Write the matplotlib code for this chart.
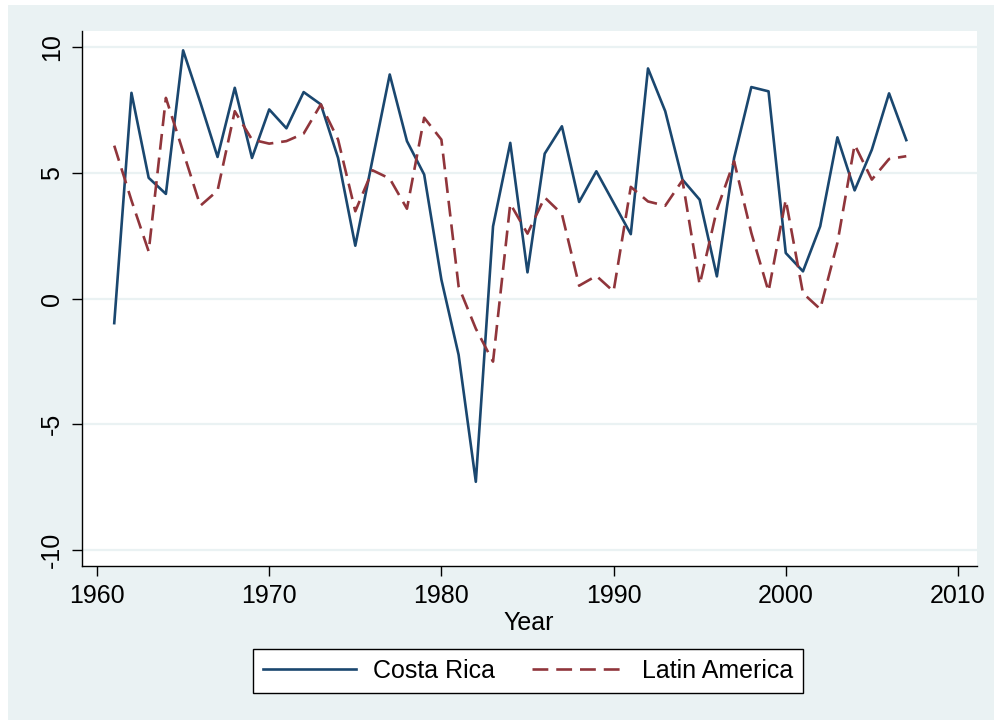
import matplotlib
matplotlib.use("Agg")
import matplotlib.pyplot as plt
from matplotlib.patches import Rectangle

years = list(range(1961, 2008))
costa_rica = [-0.98, 8.18, 4.80, 4.16, 9.87, 7.80, 5.63, 8.38, 5.59, 7.52,
              6.77, 8.21, 7.72, 5.59, 2.10, 5.53, 8.91, 6.26, 4.93, 0.75,
              -2.24, -7.29, 2.87, 6.19, 1.04, 5.76, 6.85, 3.84, 5.06, 3.81,
              2.56, 9.15, 7.45, 4.73, 3.93, 0.88, 5.59, 8.41, 8.24, 1.81,
              1.08, 2.87, 6.41, 4.30, 5.92, 8.16, 6.30]
latin_america = [6.08, 3.90, 1.87, 7.98, 5.84, 3.69, 4.29, 7.45, 6.32, 6.16,
                 6.26, 6.56, 7.72, 6.32, 3.47, 5.10, 4.77, 3.57, 7.19, 6.32,
                 0.48, -1.20, -2.51, 3.77, 2.58, 4.02, 3.36, 0.51, 0.90, 0.28,
                 4.44, 3.86, 3.69, 4.70, 0.55, 3.53, 5.46, 2.61, 0.28, 3.93,
                 0.21, -0.42, 2.21, 6.12, 4.73, 5.55, 5.66]
x_ticks = [1960, 1970, 1980, 1990, 2000, 2010]
y_ticks = [-10, -5, 0, 5, 10]

NAVY = "#1a476f"
MAROON = "#90353b"
BG = "#eaf2f3"
FS = 18

plt.rcParams['font.family'] = ['Liberation Sans', 'DejaVu Sans']

W, H = 995, 726
fig = plt.figure(figsize=(W / 100, H / 100), dpi=100)
fig.patch.set_facecolor("white")
fig.patches.append(Rectangle((8 / W, 1 - 720 / H), (W - 8) / W, (720 - 5) / H,
                             transform=fig.transFigure, facecolor=BG,
                             edgecolor="none", zorder=-10))

left, right, top, bottom = 81.7, 976.7, 31, 566
ax = fig.add_axes([left / W, 1 - bottom / H, (right - left) / W, (bottom - top) / H])
ax.set_facecolor("white")

for yv in y_ticks:
    ax.axhline(yv, color=BG, lw=1.6, zorder=1)

ax.plot(years, costa_rica, color=NAVY, lw=1.9, label="Costa Rica", zorder=3)
ax.plot(years, latin_america, color=MAROON, lw=1.9, linestyle=(0, (6, 3)),
        label="Latin America", zorder=3)

ax.set_xlim(1959.11, 2011.09)
ax.set_ylim(-10.64, 10.64)
ax.set_xticks(x_ticks)
ax.set_yticks(y_ticks)
ax.set_xticklabels([str(v) for v in x_ticks])
ax.set_yticklabels([str(v) for v in y_ticks], rotation=90, va="center")

for s in ["top", "right"]:
    ax.spines[s].set_visible(False)
for s in ["left", "bottom"]:
    ax.spines[s].set_color("black")
    ax.spines[s].set_linewidth(1.0)

ax.tick_params(axis="both", direction="out", length=7, width=1.0,
               labelsize=FS, colors="black")
ax.tick_params(axis="y", pad=6)
ax.tick_params(axis="x", pad=6)
ax.set_xlabel("Year", fontsize=FS, labelpad=2)

leg = fig.legend(loc="center", bbox_to_anchor=(528 / W, 1 - 670.5 / H),
                 ncol=2, fontsize=FS, frameon=True, fancybox=False,
                 edgecolor="black", facecolor="white", framealpha=1,
                 handlelength=3.7, handletextpad=0.68, columnspacing=1.5,
                 borderpad=0.4)
leg.get_frame().set_linewidth(1.0)

fig.savefig("out.png", dpi=100, facecolor=fig.get_facecolor())
